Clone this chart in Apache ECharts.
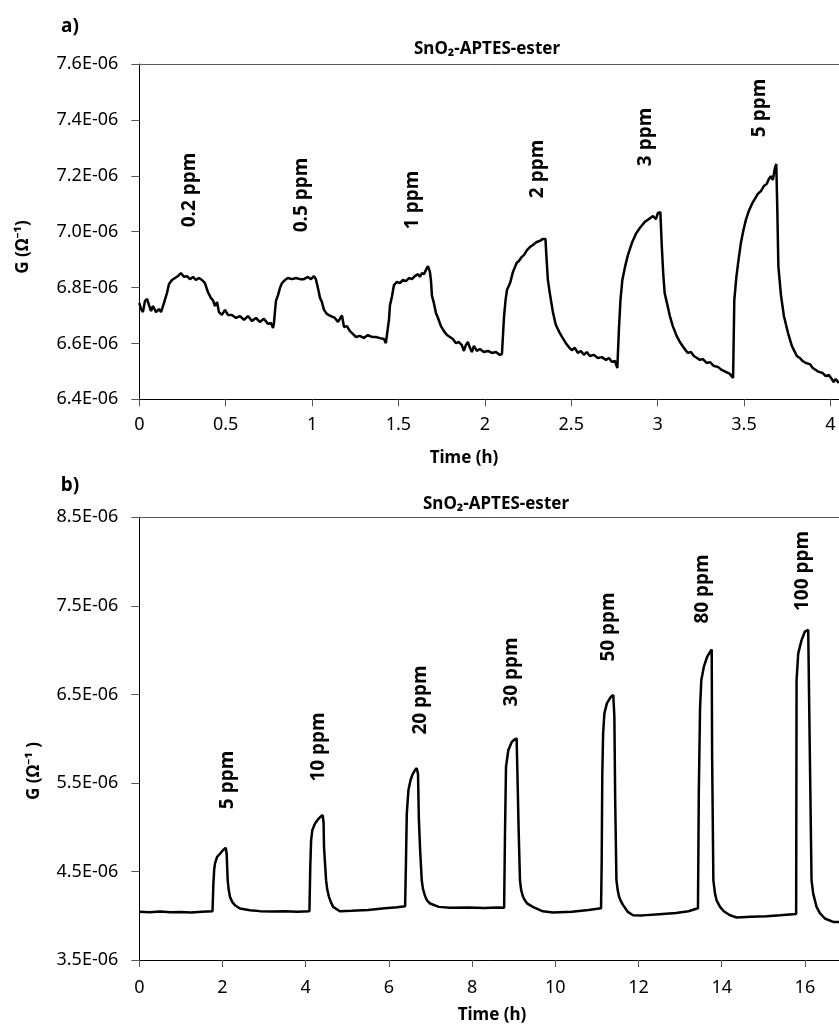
<!DOCTYPE html>
<html>
<head>
<meta charset="utf-8">
<script src="https://cdn.jsdelivr.net/npm/echarts@6/dist/echarts.min.js"></script>
<style>
  html, body { margin: 0; padding: 0; background: #fff; }
  #c { width: 839px; height: 1028px; }
</style>
</head>
<body>
<div id="c"></div>
<script>
// ---- DATA (G in units of 1E-06 Ω⁻¹, time in hours) ----
const topTime = [
  0.000,0.010,0.021,0.033,0.045,0.056,0.068,0.079,0.097,0.114,0.126,0.143,0.160,0.172,0.189,0.207,0.224,0.241,0.259,0.276,
  0.293,0.311,0.328,0.345,0.363,0.380,0.397,0.414,0.426,0.438,0.450,0.461,0.478,0.496,0.513,0.536,0.560,0.583,0.606,0.629,
  0.652,0.675,0.698,0.721,0.745,0.762,0.774,0.779,0.785,0.791,0.803,0.814,0.826,0.843,0.860,0.884,0.907,0.930,0.953,0.976,
  0.994,1.011,1.022,1.034,1.046,1.057,1.069,1.086,1.109,1.132,1.150,1.161,1.173,1.185,1.202,1.219,1.236,1.254,1.277,1.300,
  1.323,1.346,1.370,1.393,1.416,1.427,1.436,1.445,1.451,1.462,1.474,1.491,1.508,1.526,1.543,1.561,1.578,1.595,1.613,1.624,
  1.636,1.648,1.659,1.671,1.682,1.688,1.694,1.705,1.717,1.729,1.746,1.763,1.781,1.798,1.815,1.833,1.850,1.867,1.879,1.890,
  1.902,1.914,1.925,1.937,1.954,1.971,1.994,2.018,2.041,2.064,2.087,2.099,
  2.108,2.111,2.120,2.128,2.146,2.163,2.184,2.197,2.213,2.226,2.244,2.261,2.278,2.300,2.319,2.336,2.351,2.356,2.365,2.376,
  2.394,2.411,2.434,2.451,2.469,2.486,2.503,2.521,2.538,2.556,2.573,2.590,2.608,2.631,2.654,2.677,2.701,2.718,2.735,2.753,2.767,
  2.776,2.785,2.796,2.811,2.828,2.851,2.874,2.897,2.926,2.950,2.973,2.990,3.002,3.016,3.024,3.033,3.041,3.057,3.071,3.088,
  3.110,3.129,3.152,3.175,3.193,3.210,3.228,3.245,3.262,3.284,3.303,3.326,3.349,3.371,3.395,3.418,3.437,
  3.444,3.456,3.470,3.482,3.497,3.511,3.528,3.546,3.563,3.580,3.598,3.615,3.632,3.644,3.655,3.667,3.679,3.687,3.693,3.699,
  3.714,3.731,3.755,3.777,3.806,3.823,3.840,3.858,3.881,3.898,3.916,3.933,3.956,3.973,3.991,4.008,4.019,4.031,4.049
];
const topG = [
  6.745,6.723,6.712,6.752,6.759,6.737,6.716,6.734,6.712,6.723,6.712,6.745,6.780,6.813,6.827,6.834,6.841,6.852,6.838,6.841,
  6.830,6.838,6.827,6.834,6.827,6.816,6.784,6.763,6.755,6.734,6.748,6.712,6.702,6.720,6.702,6.702,6.691,6.698,6.684,6.698,
  6.680,6.691,6.677,6.688,6.670,6.673,6.655,6.670,6.712,6.752,6.773,6.798,6.816,6.827,6.834,6.830,6.834,6.830,6.830,6.838,
  6.830,6.841,6.830,6.798,6.763,6.748,6.720,6.705,6.698,6.691,6.677,6.684,6.700,6.659,6.662,6.644,6.634,6.623,6.627,6.619,
  6.630,6.623,6.623,6.619,6.616,6.601,6.605,6.684,6.737,6.766,6.809,6.820,6.816,6.827,6.823,6.834,6.830,6.841,6.848,6.838,
  6.852,6.848,6.863,6.877,6.856,6.827,6.770,6.745,6.709,6.691,6.662,6.644,6.630,6.623,6.616,6.601,6.605,6.594,6.573,6.594,
  6.605,6.584,6.569,6.591,6.573,6.580,6.569,6.573,6.566,6.569,6.559,6.562,
  6.555,6.695,6.755,6.791,6.816,6.856,6.888,6.895,6.909,6.916,6.934,6.945,6.952,6.963,6.967,6.974,6.974,6.916,6.827,6.780,
  6.712,6.666,6.637,6.619,6.601,6.587,6.576,6.584,6.566,6.573,6.559,6.569,6.555,6.559,6.548,6.551,6.541,6.548,6.534,6.537,6.512,
  6.648,6.755,6.827,6.873,6.916,6.959,6.992,7.013,7.035,7.045,7.056,7.045,7.067,7.070,6.952,6.845,6.780,6.737,6.698,6.662,
  6.627,6.605,6.584,6.566,6.569,6.555,6.548,6.541,6.544,6.530,6.533,6.519,6.516,6.505,6.498,6.491,6.476,
  6.755,6.838,6.906,6.959,7.006,7.042,7.074,7.099,7.117,7.135,7.145,7.163,7.171,7.188,7.199,7.185,7.228,7.242,7.077,6.877,
  6.773,6.698,6.637,6.591,6.555,6.548,6.537,6.530,6.526,6.512,6.505,6.498,6.494,6.483,6.487,6.473,6.462,6.473,6.458
];

const botTime = [
  0.00,0.25,0.50,0.75,1.00,1.25,1.50,1.76,1.78,1.80,1.82,1.87,1.94,2.01,2.08,2.10,2.125,2.15,2.18,2.24,2.30,2.42,2.66,2.90,3.20,3.50,3.80,4.09,
  4.11,4.13,4.159,4.224,4.30,4.36,4.409,4.43,4.44,4.49,4.52,4.56,4.60,4.66,4.82,5.10,5.50,5.90,6.20,6.39,
  6.41,6.43,6.47,6.52,6.57,6.62,6.67,6.70,6.72,6.75,6.79,6.82,6.87,6.92,6.99,7.20,7.47,7.90,8.30,8.60,8.77,
  8.79,8.815,8.87,8.95,9.02,9.07,9.09,9.12,9.151,9.18,9.22,9.26,9.32,9.46,9.70,9.945,10.40,10.80,11.10,
  11.115,11.13,11.15,11.18,11.24,11.33,11.394,11.42,11.44,11.47,11.50,11.53,11.57,11.63,11.75,11.87,12.10,12.50,12.90,13.20,13.43,
  13.45,13.48,13.51,13.57,13.65,13.76,13.77,13.80,13.84,13.88,13.96,14.05,14.20,14.36,14.70,15.08,15.40,15.72,15.79,
  15.80,15.84,15.92,16.00,16.08,16.10,16.16,16.20,16.28,16.36,16.48,16.68,16.82
];
const botG = [
  4.045,4.040,4.048,4.038,4.042,4.036,4.044,4.050,4.35,4.52,4.59,4.665,4.70,4.74,4.767,4.70,4.40,4.29,4.213,4.15,4.119,4.082,4.063,4.052,4.048,4.050,4.046,4.050,
  4.55,4.85,4.967,5.042,5.09,5.12,5.136,5.05,4.778,4.402,4.29,4.213,4.16,4.10,4.05,4.055,4.065,4.085,4.095,4.108,
  4.60,5.15,5.42,5.53,5.60,5.64,5.667,5.60,5.10,4.75,4.40,4.30,4.22,4.17,4.138,4.10,4.089,4.092,4.086,4.092,4.090,
  4.90,5.68,5.87,5.96,5.99,6.003,5.60,4.95,4.40,4.29,4.22,4.18,4.14,4.10,4.05,4.037,4.045,4.065,4.085,
  4.60,5.60,6.06,6.285,6.398,6.47,6.492,6.25,5.30,4.40,4.29,4.22,4.17,4.12,4.04,4.006,4.004,4.018,4.030,4.050,4.085,
  5.40,6.35,6.66,6.81,6.925,7.008,5.80,4.40,4.25,4.17,4.10,4.05,4.006,3.980,3.988,3.995,4.005,4.018,4.020,
  6.66,6.963,7.113,7.21,7.227,6.50,4.40,4.25,4.10,4.03,3.969,3.930,3.928
];

const topXTicks = [0, 0.5, 1, 1.5, 2, 2.5, 3, 3.5, 4];
const topYTicks = [6.4, 6.6, 6.8, 7.0, 7.2, 7.4, 7.6];
const botXTicks = [0, 2, 4, 6, 8, 10, 12, 14, 16];
const botYTicks = [3.5, 4.5, 5.5, 6.5, 7.5, 8.5];

const topLabels = ['0.2 ppm', '0.5 ppm', '1 ppm', '2 ppm', '3 ppm', '5 ppm'];
const botLabels = ['5 ppm', '10 ppm', '20 ppm', '30 ppm', '50 ppm', '80 ppm', '100 ppm'];
const chartTitle = 'SnO₂-APTES-ester';

// ---- LAYOUT ----
const FONT = "'Noto Sans', 'Open Sans', sans-serif";
const topLabelPos = [[190,190],[302,195],[413,200],[538,169],[646,137],[760,108]];
const botLabelPos = [[228,780],[319,747],[421,700],[512,672],[609,627],[703,589],[803,571]];

function zip(a, b) { return a.map((v, i) => [v, b[i]]); }
const fmtY = v => v.toFixed(1) + 'E-06';

function xAxisCfg(grid, max, ticks) {
  return {
    type: 'value', gridIndex: grid, min: 0, max: max,
    axisLine: { show: true, onZero: false, lineStyle: { color: '#000', width: 1 } },
    axisTick: { show: true, inside: false, length: 7, customValues: ticks, lineStyle: { color: '#595959' } },
    axisLabel: { customValues: ticks, formatter: v => String(v), fontSize: 18, color: '#000', fontFamily: FONT, margin: grid === 0 ? 17 : 19 },
    splitLine: { show: false }
  };
}
function topLineAxis(grid, max) {
  return {
    type: 'value', gridIndex: grid, position: 'top', min: 0, max: max,
    axisLine: { show: true, onZero: false, lineStyle: { color: '#595959', width: 1 } },
    axisTick: { show: false }, axisLabel: { show: false }, splitLine: { show: false }
  };
}
function yAxisCfg(grid, min, max, ticks) {
  return {
    type: 'value', gridIndex: grid, min: min, max: max,
    axisLine: { show: true, onZero: false, lineStyle: { color: '#000', width: 1 } },
    axisTick: { show: true, inside: false, length: 8, customValues: ticks, lineStyle: { color: '#595959' } },
    axisLabel: { customValues: ticks, formatter: fmtY, fontSize: 18, color: '#000', fontFamily: FONT, margin: 21 },
    splitLine: { show: false }
  };
}

function txt(x, y, text, size, rot) {
  return {
    type: 'text', x: x, y: y, rotation: rot ? Math.PI / 2 : 0,
    style: { text: text, fontSize: size, fontWeight: 'bold', fontFamily: FONT, fill: '#000', align: 'center', verticalAlign: 'middle' }
  };
}

const graphics = [
  txt(70, 27, 'a)', 19),
  txt(70, 486, 'b)', 19),
  txt(487, 49, chartTitle, 17),
  txt(496, 504, chartTitle, 17),
  txt(23, 247, 'G (Ω⁻¹)', 17, true),
  txt(34, 771, 'G (Ω⁻¹ )', 17, true),
  txt(464, 458, 'Time (h)', 17),
  txt(492, 1015, 'Time (h)', 17)
];
topLabels.forEach((t, i) => graphics.push(txt(topLabelPos[i][0], topLabelPos[i][1], t, 19, true)));
botLabels.forEach((t, i) => graphics.push(txt(botLabelPos[i][0], botLabelPos[i][1], t, 19, true)));

const chart = echarts.init(document.getElementById('c'), null, { renderer: 'canvas' });
chart.setOption({
  animation: false,
  backgroundColor: '#fff',
  grid: [
    { left: 139.3, top: 64, width: 700, height: 335.3 },
    { left: 139.3, top: 517.3, width: 700, height: 442.7 }
  ],
  xAxis: [
    xAxisCfg(0, 4.05, topXTicks),
    xAxisCfg(1, 16.82, botXTicks),
    topLineAxis(0, 4.05),
    topLineAxis(1, 16.82)
  ],
  yAxis: [
    yAxisCfg(0, 6.4, 7.6, topYTicks),
    yAxisCfg(1, 3.5, 8.5, botYTicks)
  ],
  series: [
    { type: 'line', xAxisIndex: 0, yAxisIndex: 0, data: zip(topTime, topG), showSymbol: false, symbol: 'none',
      lineStyle: { color: '#000', width: 2.5 }, clip: true },
    { type: 'line', xAxisIndex: 1, yAxisIndex: 1, data: zip(botTime, botG), showSymbol: false, symbol: 'none',
      lineStyle: { color: '#000', width: 2.5 }, clip: true }
  ],
  graphic: graphics
});
</script>
</body>
</html>
